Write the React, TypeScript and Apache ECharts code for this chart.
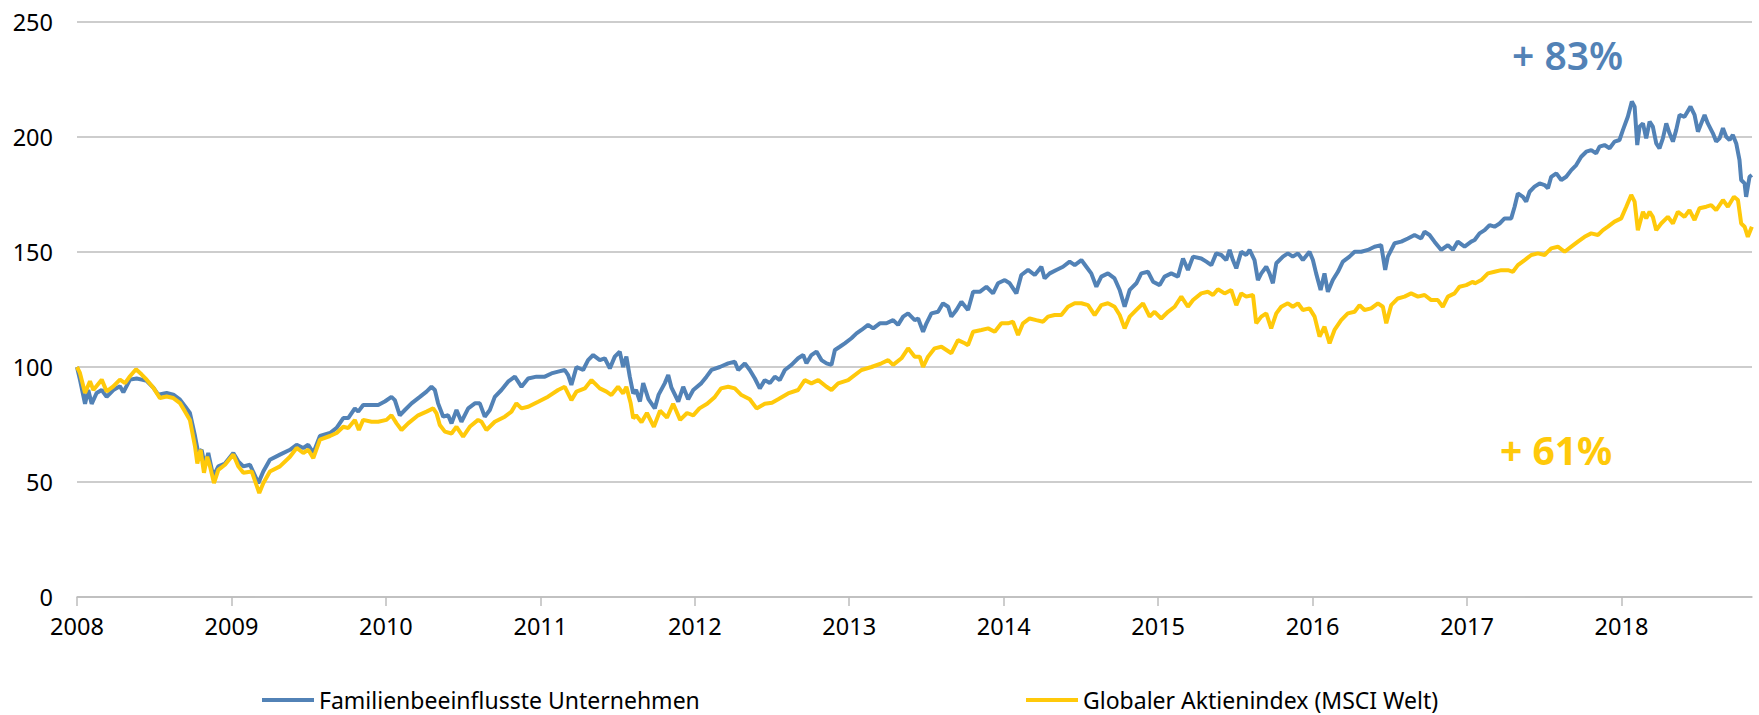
import React, { useEffect, useRef } from "react";
import * as echarts from "echarts";

// Tick labels
const yearTicks = [2008, 2009, 2010, 2011, 2012, 2013, 2014, 2015, 2016, 2017, 2018];

const famName = "Familienbeeinflusste Unternehmen";
const msciName = "Globaler Aktienindex (MSCI Welt)";

// Familienbeeinflusste Unternehmen (index, 2008 = 100), time as decimal year
const famYears = [
  2008.0, 2008.019, 2008.052, 2008.073, 2008.095, 2008.127, 2008.16, 2008.192, 2008.235, 2008.278, 2008.3,
  2008.343, 2008.386, 2008.419, 2008.451, 2008.494, 2008.526, 2008.58, 2008.624, 2008.667, 2008.699, 2008.731,
  2008.764, 2008.785, 2008.807, 2008.828, 2008.85, 2008.882, 2008.915, 2008.958, 2009.012, 2009.044, 2009.077,
  2009.12, 2009.174, 2009.206, 2009.249, 2009.314, 2009.379, 2009.422, 2009.465, 2009.497, 2009.53, 2009.573,
  2009.638, 2009.681, 2009.724, 2009.756, 2009.799, 2009.821, 2009.853, 2009.896, 2009.95, 2009.993, 2010.036,
  2010.058, 2010.09, 2010.123, 2010.166, 2010.22, 2010.263, 2010.295, 2010.317, 2010.338, 2010.371, 2010.403,
  2010.425, 2010.457, 2010.489, 2010.533, 2010.576, 2010.608, 2010.64, 2010.673, 2010.705, 2010.748, 2010.791,
  2010.835, 2010.878, 2010.921, 2010.975, 2011.029, 2011.072, 2011.115, 2011.158, 2011.18, 2011.201, 2011.234,
  2011.277, 2011.309, 2011.342, 2011.385, 2011.417, 2011.45, 2011.482, 2011.514, 2011.536, 2011.557, 2011.579,
  2011.601, 2011.62, 2011.645, 2011.666, 2011.7, 2011.741, 2011.766, 2011.806, 2011.828, 2011.849, 2011.893,
  2011.925, 2011.957, 2011.99, 2012.043, 2012.076, 2012.108, 2012.162, 2012.216, 2012.259, 2012.281, 2012.324,
  2012.356, 2012.389, 2012.421, 2012.453, 2012.486, 2012.518, 2012.55, 2012.583, 2012.626, 2012.669, 2012.702,
  2012.723, 2012.755, 2012.788, 2012.82, 2012.853, 2012.885, 2012.907, 2012.939, 2012.971, 2013.014, 2013.047,
  2013.079, 2013.122, 2013.155, 2013.198, 2013.241, 2013.284, 2013.316, 2013.349, 2013.381, 2013.424, 2013.446,
  2013.478, 2013.5, 2013.532, 2013.575, 2013.607, 2013.64, 2013.661, 2013.694, 2013.726, 2013.769, 2013.802,
  2013.845, 2013.888, 2013.931, 2013.963, 2014.007, 2014.039, 2014.082, 2014.114, 2014.158, 2014.201, 2014.244,
  2014.265, 2014.298, 2014.341, 2014.384, 2014.427, 2014.46, 2014.503, 2014.535, 2014.567, 2014.6, 2014.632,
  2014.675, 2014.718, 2014.751, 2014.783, 2014.816, 2014.859, 2014.891, 2014.934, 2014.967, 2015.01, 2015.042,
  2015.085, 2015.128, 2015.161, 2015.193, 2015.226, 2015.279, 2015.312, 2015.344, 2015.376, 2015.409, 2015.441,
  2015.463, 2015.484, 2015.506, 2015.538, 2015.57, 2015.592, 2015.624, 2015.646, 2015.668, 2015.7, 2015.721,
  2015.743, 2015.765, 2015.808, 2015.84, 2015.872, 2015.905, 2015.937, 2015.98, 2016.002, 2016.023, 2016.052,
  2016.077, 2016.099, 2016.131, 2016.164, 2016.196, 2016.239, 2016.272, 2016.315, 2016.358, 2016.401, 2016.444,
  2016.47, 2016.487, 2016.531, 2016.574, 2016.617, 2016.66, 2016.703, 2016.725, 2016.757, 2016.789, 2016.833,
  2016.876, 2016.908, 2016.94, 2016.984, 2017.027, 2017.049, 2017.081, 2017.114, 2017.146, 2017.178, 2017.211,
  2017.243, 2017.286, 2017.308, 2017.329, 2017.362, 2017.383, 2017.405, 2017.437, 2017.47, 2017.502, 2017.524,
  2017.545, 2017.578, 2017.61, 2017.642, 2017.675, 2017.707, 2017.739, 2017.772, 2017.804, 2017.836, 2017.858,
  2017.89, 2017.923, 2017.955, 2017.987, 2018.009, 2018.041, 2018.067, 2018.085, 2018.102, 2018.117, 2018.139,
  2018.16, 2018.182, 2018.203, 2018.225, 2018.246, 2018.268, 2018.29, 2018.311, 2018.333, 2018.354, 2018.376,
  2018.408, 2018.447, 2018.473, 2018.495, 2018.516, 2018.538, 2018.559, 2018.592, 2018.613, 2018.635, 2018.657,
  2018.678, 2018.7, 2018.721, 2018.743, 2018.764, 2018.775, 2018.797, 2018.807, 2018.829, 2018.844,
];
const famValues = [
  100, 94.5, 84, 90, 84, 88.7, 90, 87, 90, 91.6, 89,
  94.5, 95, 94.5, 94, 91, 88, 88.7, 88, 85.8, 83, 80,
  70, 62.6, 64, 56.8, 62.6, 52.4, 56.8, 58, 62.6, 59, 56.8,
  57.5, 49.5, 54.6, 59.7, 61.9, 64, 66.2, 64.8, 66.2, 62.6, 70,
  71.3, 73.5, 77.8, 77.8, 82, 80.6, 83.5, 83.5, 83.5, 85, 87,
  85.6, 79, 81.3, 84.2, 87, 89.3, 91.4, 90, 84.2, 78.4, 79,
  75.5, 81.3, 76.2, 82, 84.2, 84.2, 78.4, 81.3, 87, 90, 93.6,
  95.8, 91.4, 95, 95.8, 95.8, 97.2, 98, 98.7, 96.5, 92.2, 100,
  98.7, 103, 105.2, 103, 103.8, 99.4, 104.5, 106.7, 100, 104.5, 95.8,
  88.5, 90, 85, 93, 86, 82, 88, 93, 96.5, 91, 85,
  91.4, 86, 90, 93, 95.8, 98.7, 100, 101.6, 102.3, 98.7, 101.6,
  98.7, 95, 90.7, 94.3, 93, 95.8, 94.3, 98.7, 100.9, 103.8, 105.2,
  101.6, 105.2, 106.7, 103, 101.6, 100.9, 107.4, 108.8, 110.3, 112.5, 114.6,
  116.1, 118.3, 116.8, 119, 119, 120.4, 118.3, 121.9, 123.3, 120.4, 121.1,
  115.3, 119, 123.3, 124, 127.7, 126.2, 121.9, 124.8, 128.4, 124.8, 132.7,
  132.7, 134.9, 132, 136.4, 137.8, 136.4, 132, 140, 142.2, 140, 143.6,
  138.5, 140.7, 142.2, 143.6, 145.8, 144.3, 146.5, 143.6, 140.7, 134.9, 139.3,
  140.7, 138.5, 133.5, 126.2, 133.5, 136.4, 140.7, 141.4, 137.1, 135.6, 139.3,
  140.7, 139.3, 147.2, 142.2, 148, 147.2, 145.8, 144.3, 149.4, 148.7, 146.5,
  150.9, 146.5, 142.9, 150.1, 148.7, 150.9, 146.5, 137.8, 140.7, 143.6, 140.7,
  136.4, 145.1, 148, 149.4, 148, 149.4, 146.5, 150.1, 146.5, 140.7, 133.5,
  140.7, 132.7, 137.8, 141.4, 145.8, 148, 150.1, 150.1, 150.9, 152.3, 153,
  142.2, 148, 153.8, 154.5, 155.9, 157.4, 155.9, 158.8, 157.4, 154.5, 150.9,
  153, 150.9, 154.5, 152.3, 154.5, 155.2, 158.1, 159.5, 161.7, 161, 162.4,
  164.6, 164.6, 169.7, 175.5, 174, 171.9, 176.2, 178.4, 179.8, 179.1, 177.7,
  182.7, 184.2, 181.3, 182.7, 185.6, 187.8, 191.4, 193.6, 194.3, 192.9, 195.8,
  196.5, 195.1, 198, 198.7, 203, 208.8, 215.4, 213.2, 196.5, 204.5, 205.9,
  199.4, 206.7, 204.5, 197.2, 195.1, 199.4, 205.9, 201.6, 198, 203, 209.6,
  208.8, 213.2, 209.6, 202.3, 205.9, 209.6, 205.9, 201.6, 198, 199.4, 203.8,
  200.1, 198.7, 200.9, 197.2, 190, 181.3, 179.8, 174, 182.7, 183.5,
];

// Globaler Aktienindex (MSCI Welt)
const msciYears = [
  2008.0, 2008.019, 2008.052, 2008.084, 2008.106, 2008.16, 2008.192, 2008.235, 2008.278, 2008.311, 2008.343,
  2008.382, 2008.419, 2008.451, 2008.494, 2008.537, 2008.58, 2008.624, 2008.667, 2008.699, 2008.731, 2008.764,
  2008.779, 2008.8, 2008.822, 2008.843, 2008.861, 2008.887, 2008.915, 2008.958, 2009.012, 2009.044, 2009.077,
  2009.131, 2009.18, 2009.206, 2009.249, 2009.314, 2009.379, 2009.422, 2009.465, 2009.497, 2009.53, 2009.573,
  2009.638, 2009.681, 2009.724, 2009.756, 2009.799, 2009.825, 2009.853, 2009.907, 2009.95, 2010.004, 2010.036,
  2010.069, 2010.101, 2010.144, 2010.209, 2010.263, 2010.306, 2010.328, 2010.349, 2010.382, 2010.425, 2010.457,
  2010.5, 2010.543, 2010.597, 2010.619, 2010.651, 2010.705, 2010.77, 2010.813, 2010.845, 2010.878, 2010.921,
  2010.986, 2011.05, 2011.115, 2011.158, 2011.201, 2011.234, 2011.288, 2011.331, 2011.385, 2011.428, 2011.46,
  2011.503, 2011.536, 2011.557, 2011.585, 2011.601, 2011.62, 2011.655, 2011.69, 2011.735, 2011.775, 2011.82,
  2011.86, 2011.905, 2011.95, 2011.99, 2012.03, 2012.08, 2012.13, 2012.17, 2012.216, 2012.259, 2012.302,
  2012.356, 2012.4, 2012.453, 2012.5, 2012.54, 2012.604, 2012.669, 2012.712, 2012.755, 2012.799, 2012.853,
  2012.885, 2012.928, 2012.993, 2013.079, 2013.144, 2013.209, 2013.252, 2013.284, 2013.338, 2013.381, 2013.424,
  2013.456, 2013.478, 2013.51, 2013.553, 2013.597, 2013.629, 2013.661, 2013.704, 2013.748, 2013.769, 2013.802,
  2013.856, 2013.899, 2013.942, 2013.985, 2014.028, 2014.06, 2014.093, 2014.125, 2014.168, 2014.211, 2014.255,
  2014.287, 2014.33, 2014.373, 2014.416, 2014.46, 2014.503, 2014.546, 2014.589, 2014.632, 2014.675, 2014.718,
  2014.751, 2014.783, 2014.816, 2014.859, 2014.902, 2014.945, 2014.977, 2015.02, 2015.064, 2015.107, 2015.15,
  2015.193, 2015.226, 2015.279, 2015.322, 2015.355, 2015.387, 2015.43, 2015.473, 2015.506, 2015.538, 2015.57,
  2015.614, 2015.635, 2015.668, 2015.7, 2015.732, 2015.765, 2015.797, 2015.84, 2015.872, 2015.905, 2015.937,
  2015.98, 2016.013, 2016.045, 2016.077, 2016.11, 2016.142, 2016.185, 2016.228, 2016.272, 2016.304, 2016.336,
  2016.379, 2016.423, 2016.455, 2016.477, 2016.509, 2016.552, 2016.595, 2016.638, 2016.682, 2016.725, 2016.768,
  2016.811, 2016.843, 2016.876, 2016.919, 2016.951, 2016.995, 2017.038, 2017.049, 2017.092, 2017.135, 2017.178,
  2017.222, 2017.265, 2017.297, 2017.329, 2017.373, 2017.416, 2017.459, 2017.502, 2017.545, 2017.588, 2017.632,
  2017.675, 2017.718, 2017.761, 2017.804, 2017.847, 2017.88, 2017.912, 2017.955, 2017.998, 2018.031, 2018.063,
  2018.085, 2018.106, 2018.139, 2018.16, 2018.182, 2018.203, 2018.225, 2018.257, 2018.3, 2018.333, 2018.365,
  2018.408, 2018.44, 2018.473, 2018.505, 2018.549, 2018.581, 2018.613, 2018.657, 2018.689, 2018.728, 2018.754,
  2018.775, 2018.797, 2018.818, 2018.844,
];
const msciValues = [
  100, 97.4, 88.7, 93.8, 90, 94.5, 89.4, 91.6, 94.5, 93, 96,
  99, 96.7, 94.5, 91, 86.5, 87.2, 86.5, 84.3, 80.7, 77, 65.5,
  58, 64, 54, 61, 56.8, 49.5, 55.3, 57.5, 62, 56.8, 54,
  54.6, 45.2, 49.5, 54.6, 56.8, 61, 64.8, 62.6, 64, 60.4, 68.4,
  70, 71.3, 74, 73.5, 77, 72.6, 77, 76.2, 76.2, 77, 79,
  75.5, 72.6, 75.5, 79, 80.6, 82, 79.8, 74.8, 71.9, 71.1, 74,
  69.7, 74, 77, 76.2, 72.6, 76.2, 78.4, 80.6, 84.2, 82, 82.7,
  84.9, 87.1, 90, 91.4, 85.6, 89.3, 90.7, 94.3, 90.7, 89.3, 87.8,
  91.4, 88.5, 91.4, 84.2, 77.7, 79, 76, 80, 74, 81, 78,
  84, 77, 80, 79, 82, 84, 87, 90.7, 91.4, 90.7, 87.8,
  86, 82, 84, 84.5, 86, 88.5, 90, 94.3, 92.9, 94.3, 91.4,
  90, 92.9, 94.3, 98.7, 100, 101.6, 103, 100.9, 103.8, 108.1, 104.5,
  104.5, 100, 104.5, 108.1, 108.8, 107.4, 106, 111.7, 110.3, 109.5, 115.3,
  116.1, 116.8, 115.3, 119, 119, 119.7, 113.9, 119, 121.1, 120.4, 119.7,
  121.9, 122.6, 122.6, 126.2, 127.7, 127.7, 126.9, 122.6, 126.9, 127.7, 126.2,
  122.6, 116.8, 121.9, 124.8, 127.7, 121.9, 124, 121.1, 124, 126.2, 130.6,
  126.2, 129.1, 132, 132.7, 131.3, 133.8, 132, 133.5, 126.9, 132, 130.6,
  131.3, 119, 121.9, 123.3, 116.8, 123.3, 126.2, 127.7, 126.2, 127.7, 124.8,
  125.5, 121.9, 113.2, 117.5, 110.3, 116.1, 120.4, 123.3, 124, 126.9, 124.8,
  125.5, 127.7, 126.2, 119, 126.9, 129.8, 130.6, 132, 130.6, 131.3, 129.1,
  129.1, 126.2, 130.6, 132, 134.9, 135.6, 137.1, 136.3, 137.8, 140.7, 141.4,
  142.1, 142.1, 141.4, 144.3, 146.5, 148.7, 149.4, 148.7, 151.6, 152.3, 150.1,
  152.3, 154.5, 156.6, 158.1, 157.4, 159.5, 161, 163.2, 164.6, 169.7, 174.8,
  171.9, 159.5, 167.5, 164.6, 167.5, 165.3, 159.5, 162.4, 165.3, 162.4, 167.5,
  165.3, 168.2, 163.9, 169, 169.7, 170.4, 168.2, 172.6, 169.7, 174, 172.6,
  162.4, 161, 156.6, 161,
];

const famGain = "+ 83%";
const msciGain = "+ 61%";

const BLUE = "#5282b6";
const YELLOW = "#ffc90a";
const GRID = "#bcbcbc";
const FONT = "Noto Sans";

export default function App() {
  const ref = useRef<HTMLDivElement>(null);

  useEffect(() => {
    if (!ref.current) return;
    const chart = echarts.init(ref.current, null, { renderer: "svg" });
    const famData = famYears.map((t, i) => [t, famValues[i]]);
    const msciData = msciYears.map((t, i) => [t, msciValues[i]]);

    const legendText = { fontFamily: FONT, fontSize: 23, color: "#000000", lineHeight: 24 };

    chart.setOption({
      animation: false,
      backgroundColor: "#ffffff",
      textStyle: { fontFamily: FONT },
      grid: { left: 77, right: 7, top: 22, bottom: 118, containLabel: false },
      xAxis: {
        type: "value",
        min: 2008,
        max: 2018.845,
        interval: 1,
        axisLine: { show: true, lineStyle: { color: GRID, width: 1.5 } },
        axisTick: {
          show: true,
          length: 9,
          customValues: yearTicks,
          lineStyle: { color: GRID, width: 1.5 },
        },
        axisLabel: {
          customValues: yearTicks,
          formatter: (v: number) => String(Math.round(v)),
          color: "#000000",
          fontFamily: FONT,
          fontSize: 23.5,
          margin: 17,
        },
        splitLine: { show: false },
      },
      yAxis: {
        type: "value",
        min: 0,
        max: 250,
        interval: 50,
        axisLine: { show: false },
        axisTick: { show: false },
        axisLabel: { color: "#000000", fontFamily: FONT, fontSize: 23.5, margin: 24 },
        splitLine: { show: true, lineStyle: { color: GRID, width: 1.5 } },
      },
      legend: [
        {
          data: [famName],
          left: 262,
          top: 688,
          padding: 0,
          icon: "rect",
          itemWidth: 52,
          itemHeight: 4,
          textStyle: legendText,
        },
        {
          data: [msciName],
          left: 1026,
          top: 688,
          padding: 0,
          icon: "rect",
          itemWidth: 52,
          itemHeight: 4,
          textStyle: legendText,
        },
      ],
      graphic: [
        {
          type: "text",
          x: 1512,
          y: 54,
          style: {
            text: famGain,
            fill: BLUE,
            font: `600 39px "${FONT}"`,
            align: "left",
            verticalAlign: "middle",
          },
        },
        {
          type: "text",
          x: 1500,
          y: 449,
          style: {
            text: msciGain,
            fill: YELLOW,
            font: `700 39px "${FONT}"`,
            align: "left",
            verticalAlign: "middle",
          },
        },
      ],
      series: [
        {
          name: famName,
          type: "line",
          data: famData,
          showSymbol: false,
          symbol: "none",
          lineStyle: { color: BLUE, width: 4 },
          itemStyle: { color: BLUE },
        },
        {
          name: msciName,
          type: "line",
          data: msciData,
          showSymbol: false,
          symbol: "none",
          lineStyle: { color: YELLOW, width: 4 },
          itemStyle: { color: YELLOW },
        },
      ],
    });
    return () => chart.dispose();
  }, []);

  return (
    <div
      ref={ref}
      style={{ position: "fixed", left: 0, top: 0, width: 1759, height: 715, background: "#fff" }}
    />
  );
}
